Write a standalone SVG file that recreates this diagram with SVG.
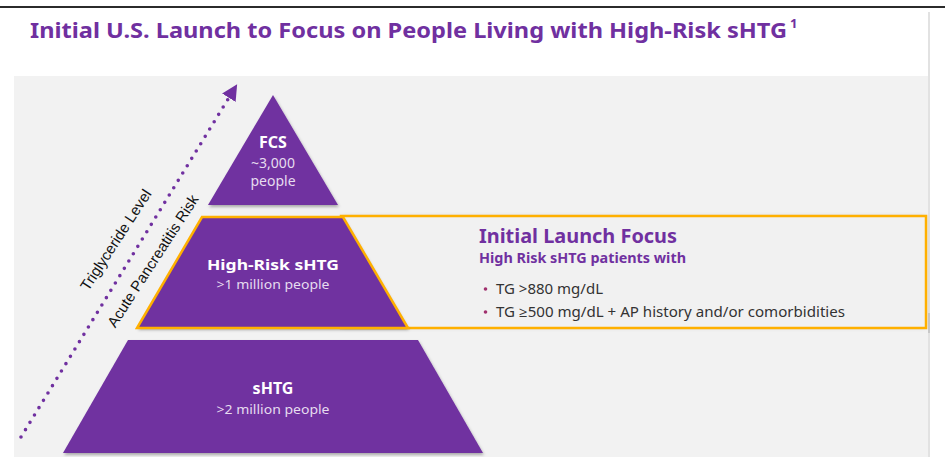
<svg xmlns="http://www.w3.org/2000/svg" width="945" height="457" viewBox="0 0 945 457">
<defs>
  <filter id="sh" x="-10%" y="-10%" width="120%" height="130%">
    <feDropShadow dx="1" dy="2" stdDeviation="1.5" flood-color="#000" flood-opacity="0.3"/>
  </filter>
  <filter id="boxsh" x="-5%" y="-10%" width="110%" height="120%">
    <feDropShadow dx="0" dy="0" stdDeviation="2" flood-color="#000" flood-opacity="0.12"/>
  </filter>
  <marker id="ah" viewBox="0 0 10 10" refX="5" refY="5" markerWidth="4.4" markerHeight="4.4" orient="auto" markerUnits="strokeWidth">
    <path d="M0,0 L10,5 L0,10 Z" fill="#7030A0"/>
  </marker>
</defs>
<style>
  .ttl{font-family:"Noto Sans","Open Sans",sans-serif;font-weight:700;fill:#7030A0}
  .shape{fill:#7030A0}
  .hb{font-family:"Noto Sans","Open Sans",sans-serif;font-weight:700;fill:#ffffff;text-anchor:middle}
  .hs{font-family:"Noto Sans","Open Sans",sans-serif;font-weight:400;fill:#e6dcef;text-anchor:middle}
  .ax{font-family:"Liberation Sans",Arial,sans-serif;font-size:15px;fill:#111;text-anchor:middle}
  .ph{font-family:"Noto Sans","Open Sans",sans-serif;font-weight:700;fill:#7030A0}
  .bt{font-family:"Noto Sans","Open Sans",sans-serif;font-size:14px;fill:#333}
  .bl{fill:#a0306e}
  .orng{fill:none;stroke:#FFB000;stroke-width:2.5;stroke-linejoin:miter}
</style>

<rect x="0" y="0" width="945" height="457" fill="#ffffff"/>
<line x1="0" y1="7" x2="945" y2="7" stroke="#2b2b2b" stroke-width="2"/>
<rect x="14" y="76" width="914" height="381" fill="#f2f2f2"/>
<line x1="929" y1="12" x2="929" y2="457" stroke="#e2e2e2" stroke-width="2"/>
<rect x="928" y="313" width="2" height="20" fill="#c8c8c8"/>

<text class="ttl" x="30" y="38" font-size="22" textLength="757" lengthAdjust="spacingAndGlyphs">Initial U.S. Launch to Focus on People Living with High-Risk sHTG</text>
<text class="ttl" x="790" y="28" font-size="13" font-weight="400">1</text>

<g id="launch-focus">
  <rect x="341" y="216" width="585" height="112" fill="#f1f1f1" filter="url(#boxsh)"/>
  <rect class="orng" x="341" y="216" width="585" height="112"/>
  <text class="ph" x="479" y="243" font-size="19" textLength="198" lengthAdjust="spacingAndGlyphs">Initial Launch Focus</text>
  <text class="ph" x="479" y="263" font-size="13.5" textLength="207" lengthAdjust="spacingAndGlyphs">High Risk sHTG patients with</text>
  <circle class="bl" cx="485.5" cy="289" r="1.8"/>
  <text class="bt" x="496" y="294" textLength="107" lengthAdjust="spacingAndGlyphs">TG &gt;880 mg/dL</text>
  <circle class="bl" cx="485.5" cy="312" r="1.8"/>
  <text class="bt" x="496" y="317" textLength="349" lengthAdjust="spacingAndGlyphs">TG ≥500 mg/dL + AP history and/or comorbidities</text>
</g>

<g id="connectors">
  <line x1="21" y1="437" x2="233" y2="91" stroke="#7030A0" stroke-width="3.6" stroke-linecap="round" stroke-dasharray="0 8.6" marker-end="url(#ah)"/>
</g>

<g id="axis-labels">
  <g transform="translate(116,240) rotate(-57)"><text class="ax" x="0" y="5">Triglyceride Level</text></g>
  <g transform="translate(153,261) rotate(-57)"><text class="ax" x="0" y="5">Acute Pancreatitis Risk</text></g>
</g>

<g id="fcs">
  <polygon class="shape" points="273,95 338,205 208,205" filter="url(#sh)"/>
  <text class="hb" x="273" y="148" font-size="16">FCS</text>
  <text class="hs" x="273" y="168" font-size="14">~3,000</text>
  <text class="hs" x="273" y="186" font-size="14">people</text>
</g>

<g id="high-risk-shtg">
  <polygon class="shape" points="202,217 343,217 408,328 137,328" filter="url(#sh)"/>
  <polygon class="orng" points="202,217 343,217 408,328 137,328"/>
  <text class="hb" x="273" y="270" font-size="15" textLength="132" lengthAdjust="spacingAndGlyphs">High-Risk sHTG</text>
  <text class="hs" x="273" y="289" font-size="13" textLength="113" lengthAdjust="spacingAndGlyphs">&gt;1 million people</text>
</g>

<g id="shtg">
  <polygon class="shape" points="128,340 418,340 483,453 63,453" filter="url(#sh)"/>
  <text class="hb" x="273" y="394" font-size="16">sHTG</text>
  <text class="hs" x="273" y="414" font-size="13" textLength="113" lengthAdjust="spacingAndGlyphs">&gt;2 million people</text>
</g>
</svg>
